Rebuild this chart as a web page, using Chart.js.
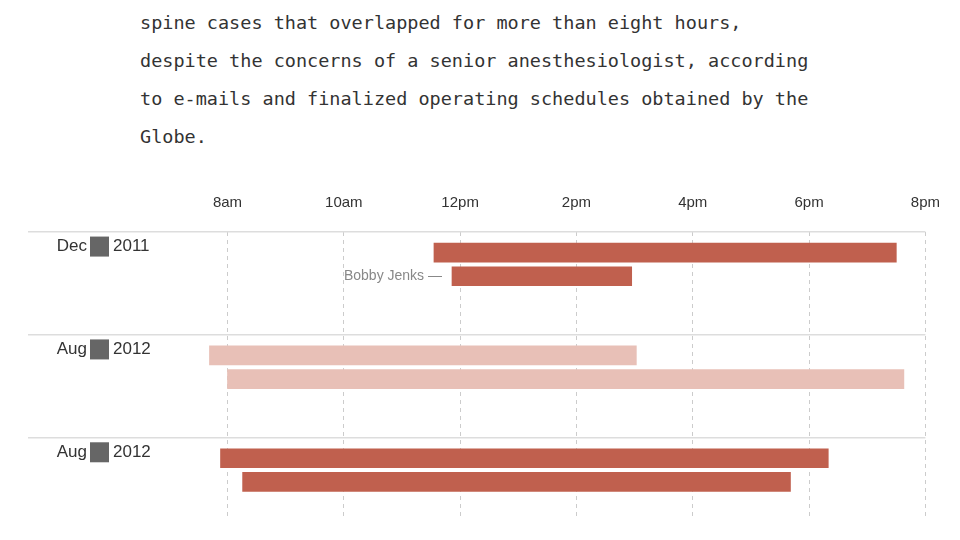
<!DOCTYPE html>
<html><head><meta charset="utf-8">
<script src="https://cdn.jsdelivr.net/npm/chart.js@4"></script>
<style>
body{margin:0;background:#fff;width:960px;height:540px;overflow:hidden;position:relative}
#txt{position:absolute;left:140px;top:4px;font-family:"DejaVu Sans Mono",monospace;font-size:18.5px;line-height:38px;color:#333}
#wrap{position:absolute;left:0;top:0;width:960px;height:540px}
</style></head><body>
<div id="txt">spine cases that overlapped for more than eight hours,<br>despite the concerns of a senior anesthesiologist, according<br>to e-mails and finalized operating schedules obtained by the<br>Globe.</div>
<div id="wrap"><canvas id="c"></canvas></div>
<script>
// hours as decimals, 8 = 8am
var groupLabels = [['Dec', '2011'], ['Aug', '2012'], ['Aug', '2012']];
var starts = [11.55, 11.86, 7.69, 8.0, 7.88, 8.26];
var ends = [19.5, 14.95, 15.03, 19.63, 18.33, 17.68];
var rowPos = [2, 4.3, 12, 14.3, 22, 24.3];
var barColors = ['#c0604e', '#c0604e', '#e8c0b7', '#e8c0b7', '#c0604e', '#c0604e'];
var tickHours = [8, 10, 12, 14, 16, 18, 20];
var tickNames = ['8am', '10am', '12pm', '2pm', '4pm', '6pm', '8pm'];

var data = starts.map(function (s, i) { return { x: [s, ends[i]], y: rowPos[i] }; });

var labelsPlugin = {
  id: 'labels',
  afterDraw: function (chart) {
    var ctx = chart.ctx, y = chart.scales.y, x = chart.scales.x;
    ctx.save();
    ctx.font = '17px "Liberation Sans", Arial, sans-serif';
    ctx.textBaseline = 'middle';
    groupLabels.forEach(function (g, i) {
      var py = y.getPixelForValue(rowPos[i * 2]) - 6;
      ctx.fillStyle = '#333';
      ctx.textAlign = 'right';
      ctx.fillText(g[0], 87, py);
      ctx.textAlign = 'left';
      ctx.fillText(g[1], 113, py);
      ctx.fillStyle = '#666';
      ctx.fillRect(90, py - 10, 19, 20);
    });
    ctx.font = '14px "Liberation Sans", Arial, sans-serif';
    ctx.fillStyle = '#888';
    ctx.textAlign = 'right';
    ctx.fillText('Bobby Jenks —', x.getPixelForValue(starts[1]) - 10, y.getPixelForValue(rowPos[1]));
    ctx.restore();
  }
};

new Chart(document.getElementById('c'), {
  type: 'bar',
  data: { datasets: [{ data: data, backgroundColor: barColors, barThickness: 19 }] },
  plugins: [labelsPlugin],
  options: {
    indexAxis: 'y',
    responsive: true,
    maintainAspectRatio: false,
    animation: false,
    layout: { padding: { top: 180, left: 28, right: 32, bottom: 20 } },
    plugins: { legend: { display: false }, tooltip: { enabled: false } },
    scales: {
      x: {
        type: 'linear', position: 'top', min: 4.57, max: 20, offset: false,
        afterBuildTicks: function (s) { s.ticks = tickHours.map(function (v) { return { value: v }; }); },
        afterFit: function (s) { s.height = 52; },
        ticks: { padding: 20, color: '#333', font: { size: 15, family: '"Liberation Sans", Arial' },
          callback: function (v) { return tickNames[tickHours.indexOf(v)]; } },
        grid: { color: '#ccc', drawTicks: false, tickLength: 0, offset: false },
        border: { display: false, dash: [4, 4] }
      },
      y: {
        type: 'linear', reverse: true, min: 0, max: 28, display: true, offset: false,
        afterBuildTicks: function (s) { s.ticks = [0, 10, 20].map(function (v) { return { value: v }; }); },
        afterFit: function (s) { s.width = 0; },
        ticks: { display: false },
        grid: { color: '#ddd', lineWidth: 1.5, drawTicks: false, offset: false },
        border: { display: false }
      }
    }
  }
});
</script>
</body></html>
